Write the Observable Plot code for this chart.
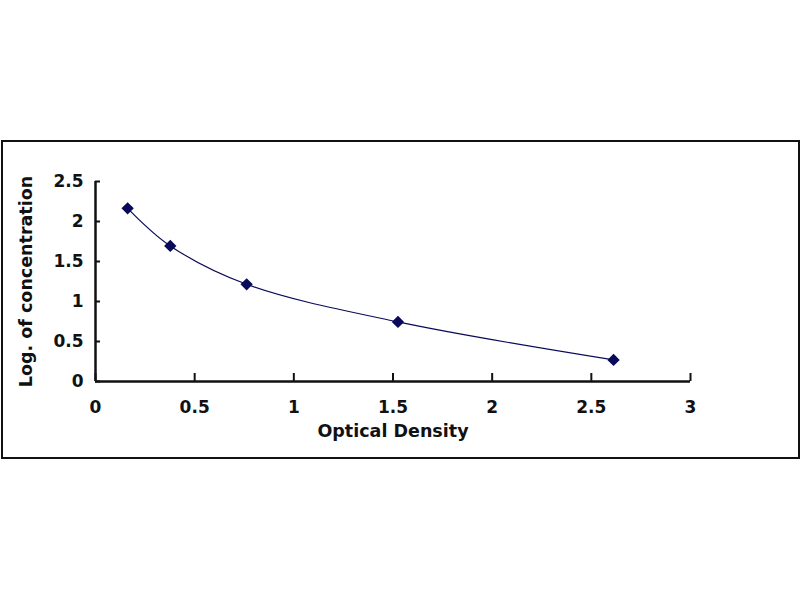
<!DOCTYPE html>
<html>
<head>
<meta charset="utf-8">
<script src="https://cdn.jsdelivr.net/npm/d3@7"></script>
<script src="https://cdn.jsdelivr.net/npm/@observablehq/plot@0.6"></script>
<style>
  html, body { margin: 0; padding: 0; background: #fff; }
  #wrap { position: relative; width: 800px; height: 600px; }
  #box { position: absolute; left: 1px; top: 140px; width: 795px; height: 315px; border: 2px solid #111; pointer-events: none; }
</style>
</head>
<body>
<div id="wrap"><div id="box"></div></div>
<script>
const opticalDensity = [0.162, 0.377, 0.762, 1.525, 2.612];
const logConcentration = [2.165, 1.695, 1.215, 0.745, 0.27];
const xTicks = [0, 0.5, 1, 1.5, 2, 2.5, 3];
const yTicks = [0, 0.5, 1, 1.5, 2, 2.5];
const xTitle = "Optical Density";
const yTitle = "Log. of concentration";

const data = opticalDensity.map((x, i) => ({x, y: logConcentration[i]}));
const navy = "#0a0a5a";
const font = "'DejaVu Sans', Verdana, sans-serif";

const chart = Plot.plot({
  width: 800,
  height: 600,
  marginLeft: 95,
  marginRight: 110,
  marginTop: 181,
  marginBottom: 219,
  style: {fontFamily: font, fontSize: "17px", fontWeight: "bold", color: "#111", background: "transparent"},
  x: {domain: [0, 3]},
  y: {domain: [0, 2.5]},
  marks: [
    Plot.axisX({ticks: xTicks, tickSize: -8, tickPadding: 27, tickFormat: d => String(d), strokeWidth: 2, label: null, fontSize: 17, fontWeight: "bold"}),
    Plot.axisY({ticks: yTicks, tickSize: -5, tickPadding: 17, tickFormat: d => String(d), strokeWidth: 2, label: null, fontSize: 17, fontWeight: "bold"}),
    Plot.ruleX([0], {stroke: "#111", strokeWidth: 2.5}),
    Plot.ruleY([0], {stroke: "#111", strokeWidth: 2.5}),
    Plot.line(data, {x: "x", y: "y", curve: "catmull-rom", stroke: navy, strokeWidth: 1.2}),
    Plot.dot(data, {x: "x", y: "y", symbol: "diamond2", r: 4.6, fill: navy, stroke: navy}),
    Plot.text([xTitle], {text: d => d, frameAnchor: "bottom", dy: 55, fontSize: 17.5, fontWeight: "bold", fill: "#111"}),
    Plot.text([yTitle], {text: d => d, frameAnchor: "left", dx: -69, rotate: -90, textAnchor: "middle", fontSize: 17.5, fontWeight: "bold", fill: "#111"})
  ]
});
document.getElementById("wrap").prepend(chart);
</script>
</body>
</html>
